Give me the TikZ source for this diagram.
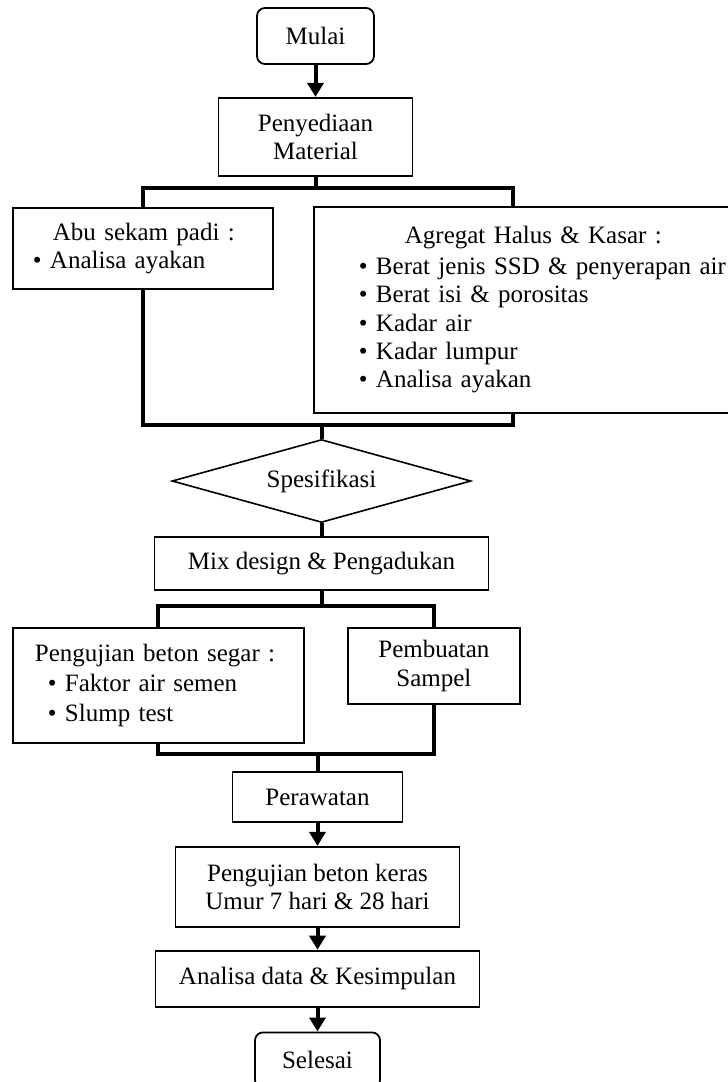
\documentclass[tikz,border=0pt]{standalone}
\usepackage{fontspec}
\setmainfont{Liberation Serif}
\usetikzlibrary{shapes.geometric, arrows.meta, positioning, calc}

\begin{document}
\begin{tikzpicture}[
    x=1pt, y=1pt,
    font=\fontsize{12.5}{14.2}\selectfont,
    node distance=12pt,
    box/.style={rectangle, draw, line width=0.9pt, align=center, inner sep=2pt},
    termbox/.style={box, rounded corners=4pt},
    listbox/.style={rectangle, draw, line width=0.9pt, anchor=north west,
        align=left, inner ysep=0pt},
    decision/.style={diamond, draw, line width=0.8pt, aspect=3.6, inner sep=0pt,
        minimum width=149.5pt, minimum height=41.5pt},
    arrow/.style={-{Triangle[length=7pt, width=8pt]}, line width=2pt},
    link/.style={line width=2pt},
]
\fill[white] (0,0) rectangle (364,-541);
\useasboundingbox (0,0) rectangle (364,-541);

% ---- main spine ----
\node (mulai)      [termbox, minimum width=58.5pt, minimum height=28pt] at (157.75,-18) {Mulai};
\node (penyediaan) [box, minimum width=97pt, minimum height=39pt, below=16pt of mulai] {Penyediaan\\Material};
\node (spek)       [decision, below=131pt of penyediaan, xshift=3pt] {Spesifikasi};
\node (mix)        [box, minimum width=167pt, minimum height=26.5pt, below=6.5pt of spek] {Mix design \& Pengadukan};
\node (perawatan)  [box, minimum width=85pt, minimum height=25pt, below=90pt of mix, xshift=-2pt] {Perawatan};
\node (keras)      [box, minimum width=142pt, minimum height=40pt, below=11.5pt of perawatan] {Pengujian beton keras\\Umur 7 hari \& 28 hari};
\node (analisa)    [box, minimum width=162pt, minimum height=28pt, below=11pt of keras] {Analisa data \& Kesimpulan};
\node (selesai)    [termbox, minimum width=62.5pt, minimum height=28pt, below=12pt of analisa] {Selesai};

% ---- side boxes ----
\node (abu) [listbox, text width=110pt, inner xsep=10pt, minimum height=40.5pt] at (6,-103.5)
    {\hspace*{10pt}Abu sekam padi :\\\textbullet\ Analisa ayakan};
\node (agregat) [listbox, text width=210pt, inner xsep=22.5pt, minimum height=103pt] at (156.5,-103)
    {\hspace*{23pt}Agregat Halus \& Kasar :\\[1pt]
     \textbullet\ Berat jenis SSD \& penyerapan air\\
     \textbullet\ Berat isi \& porositas\\
     \textbullet\ Kadar air\\
     \textbullet\ Kadar lumpur\\
     \textbullet\ Analisa ayakan};
\node (segar) [listbox, text width=123.5pt, inner xsep=11pt, minimum height=57.5pt] at (6,-313.5)
    {Pengujian beton segar :\\[1pt]
     \hspace*{6.5pt}\textbullet\ Faktor air semen\\[1pt]
     \hspace*{6.5pt}\textbullet\ Slump test};
\node (sampel) [box, minimum width=86pt, minimum height=38pt, anchor=north west] at (173.5,-313.5) {Pembuatan\\Sampel};

% ---- split / join points ----
\coordinate (split1) at ($(penyediaan.south)+(0,-5.5)$);
\coordinate (agrtop) at ($(agregat.north west)+(100,0)$);
\coordinate (agrbot) at ($(agregat.south west)+(100,0)$);
\coordinate (join1)  at ($(spek.north)+(0,7)$);
\coordinate (split2) at ($(mix.south)+(0,-7.5)$);
\coordinate (join2)  at ($(perawatan.north)+(0,8.5)$);

% ---- connectors ----
\draw[arrow] (mulai) -- (penyediaan);
\draw[link] (penyediaan) -- (split1);
\draw[link] (abu.north) |- (split1) -| (agrtop);
\draw[link] (abu.south) |- (join1) -| (agrbot);
\draw[link] (join1) -- (spek.north);
\draw[link] (spek.south) -- (mix.north);
\draw[link] (mix) -- (split2);
\draw[link] (segar.north) |- (split2) -| (sampel.north);
\draw[link] (segar.south) |- (join2) -| (sampel.south);
\draw[link] (join2) -- (perawatan.north);
\draw[arrow] (perawatan) -- (keras);
\draw[arrow] (keras) -- (analisa);
\draw[arrow] (analisa) -- (selesai);

\end{tikzpicture}
\end{document}
